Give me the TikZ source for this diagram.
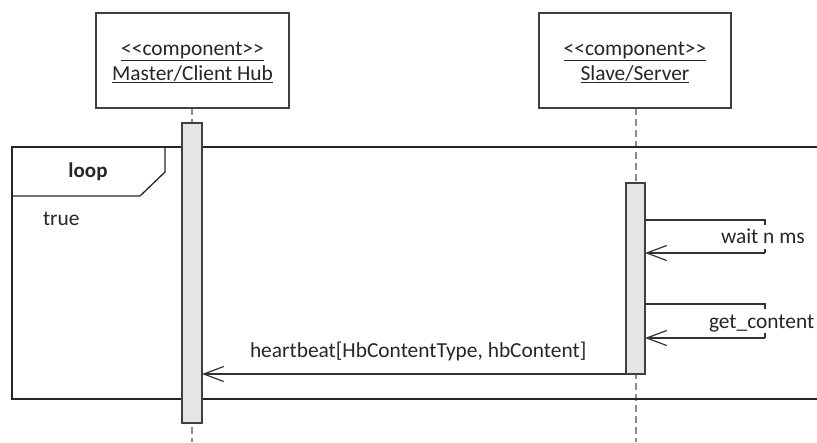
\documentclass[tikz,border=0pt]{standalone}
\usepackage{fontspec}
\setmainfont{Carlito}
\usetikzlibrary{arrows.meta}
\begin{document}
\begin{tikzpicture}[x=1pt,y=-1pt,
  every node/.style={inner sep=0pt,outer sep=0pt,font=\fontsize{21.4}{24}\selectfont,text=black!85},
  boxline/.style={draw=black!75,line width=1.3pt},
  headbox/.style={boxline,fill=white},
  actbox/.style={boxline,fill=black!10},
  lifeline/.style={draw=black!45,line width=1.2pt,dash pattern=on 7pt off 4pt},
  msg/.style={draw=black!80,line width=1.3pt},
  openhead/.style={-{Straight Barb[length=20pt,width=15pt,line width=1.2pt]}},
  selflabel/.style={anchor=base west,fill=white,text height=18pt,text depth=6pt}]
  \useasboundingbox (0,0) rectangle (817,442);

  % lifelines (behind everything else)
  \coordinate (mtop) at (192,108);
  \coordinate (mend) at (192,442);
  \coordinate (stop) at (636,108);
  \coordinate (send) at (636,442);
  \draw[lifeline] (mtop) -- (mend);
  \draw[lifeline] (stop) -- (send);

  % combined fragment: loop
  \coordinate (frTL) at (12,147);
  \coordinate (frBR) at (817,399);
  \draw[boxline,draw=black!85] (817,147) -- (frTL) |- (frBR);
  \coordinate (tabA) at (165,147);
  \coordinate (tabB) at (165,172);
  \coordinate (tabC) at (140,196);
  \coordinate (tabD) at (12,196);
  \draw[boxline,draw=black!85] (tabA) -- (tabB) -- (tabC) -- (tabD);
  \node[anchor=base,font=\fontsize{21}{24}\selectfont\bfseries] (looplbl) at (88,177) {loop};
  \node[anchor=base west] (guard) at (43,225) {true};

  % participant heads
  \node[headbox,minimum width=193pt,minimum height=95pt] (master) at (192.5,60.5) {};
  \node[headbox,minimum width=192pt,minimum height=95pt] (slave) at (635,60.5) {};
  \node[anchor=base] (mst) at (192.5,55) {\underline{<{}<component>{}>}};
  \node[anchor=base] (mnm) at (192.5,80) {\underline{Master/Client Hub}};
  \node[anchor=base] (sst) at (635,55) {\underline{<{}<component>{}>}};
  \node[anchor=base] (snm) at (635,80) {\underline{Slave/Server}};

  % activation bars
  \node[actbox,minimum width=20pt,minimum height=300pt] (mact) at (192,273) {};
  \node[actbox,minimum width=19pt,minimum height=191pt] (sact) at (635.5,278.5) {};

  % self message: wait n ms (label box hides the return leg)
  \coordinate (w1) at (765,220);
  \coordinate (w2) at (765,253);
  \draw[msg] (sact.east |- w1) -- (w1) -- (w2);
  \draw[msg,openhead] (w2) -- (sact.east |- w2);
  \node[selflabel] (waitlbl) at (721,243) {wait n ms};

  % self message: get_content
  \coordinate (g1) at (765,304);
  \coordinate (g2) at (765,338);
  \draw[msg] (sact.east |- g1) -- (g1) -- (g2);
  \draw[msg,openhead] (g2) -- (sact.east |- g2);
  \node[selflabel,text height=19pt,text depth=5pt] (getlbl) at (709,328) {get\_content};

  % heartbeat message
  \coordinate (hb) at (0,374);
  \draw[msg,openhead] (sact.west |- hb) -- (mact.east |- hb);
  \node[anchor=base west] (hblbl) at (250,357) {heartbeat[HbContentType, hbContent]};
\end{tikzpicture}
\end{document}
